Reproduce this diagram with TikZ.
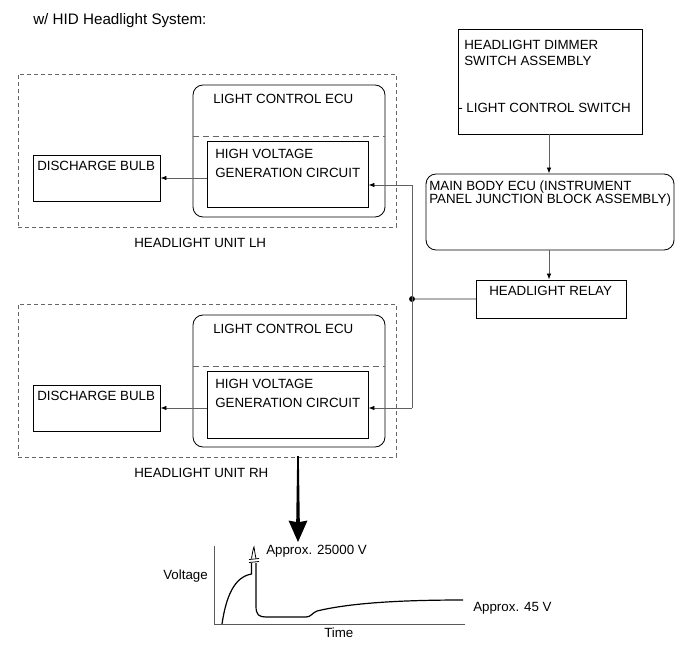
\documentclass[tikz,border=0pt]{standalone}
\usepackage{fontspec}
\setmainfont{Liberation Sans}
\usetikzlibrary{arrows.meta,fit}
\newcommand{\boxfnt}{\fontsize{10pt}{12pt}\selectfont}
\newcommand{\titlefnt}{\fontsize{11.4pt}{13.5pt}\selectfont}
\begin{document}
\begin{tikzpicture}[x=0.75pt,y=-0.75pt,
  box/.style={draw=black,line width=0.65pt,inner sep=0pt},
  rbox/.style={box,rounded corners=7.5pt},
  dbox/.style={draw=gray!80!black,line width=0.6pt,dash pattern=on 3pt off 2.25pt,inner sep=0pt},
  innerdash/.style={draw=gray!80!black,line width=0.6pt,dash pattern=on 4.5pt off 3pt},
  lbl/.style={inner sep=0pt,anchor=base west,font=\boxfnt},
  wire/.style={draw=gray!75!black,line width=0.6pt},
  arr/.style={wire,-{Latex[length=4.5pt,width=3.4pt,color=black]}},
  curve/.style={draw=black,line width=0.9pt},
  axis/.style={draw=gray!70!black,line width=0.7pt}]
\useasboundingbox (0,0) rectangle (691,660);

% title
\node[lbl,font=\titlefnt] (title) at (33,25) {w/ HID Headlight System:};

% ---------- LH unit ----------
\node[dbox,fit={(18,74)(396,227)}] (unitL) {};
\node[rbox,fit={(193,85)(385,217)}] (ecuL) {};
\draw[innerdash] (ecuL.west |- 0,136) -- (ecuL.east |- 0,136);
\node[lbl] (ecuLt) at (213,103) {LIGHT CONTROL ECU};
\node[box,fit={(207,141)(368,207)}] (hvL) {};
\node[lbl] (hvLt1) at (215,158) {HIGH VOLTAGE};
\node[lbl] (hvLt2) at (215,177) {GENERATION CIRCUIT};
\node[box,fit={(33,155)(160,201)}] (bulbL) {};
\node[lbl] (bulbLt) at (37,170) {DISCHARGE BULB};
\node[lbl] (unitLt) at (134,247) {HEADLIGHT UNIT LH};

% ---------- RH unit ----------
\node[dbox,fit={(18,304)(396,457)}] (unitR) {};
\node[rbox,fit={(193,315)(385,447)}] (ecuR) {};
\draw[innerdash] (ecuR.west |- 0,366) -- (ecuR.east |- 0,366);
\node[lbl] (ecuRt) at (213,333) {LIGHT CONTROL ECU};
\node[box,fit={(207,371)(368,438)}] (hvR) {};
\node[lbl] (hvRt1) at (215,388) {HIGH VOLTAGE};
\node[lbl] (hvRt2) at (215,407) {GENERATION CIRCUIT};
\node[box,fit={(33,385)(160,431)}] (bulbR) {};
\node[lbl] (bulbRt) at (37,400) {DISCHARGE BULB};
\node[lbl] (unitRt) at (134,477) {HEADLIGHT UNIT RH};

% ---------- right column ----------
\node[box,fit={(458,29)(642,134)}] (dim) {};
\node[lbl] (dimt1) at (464,50) {HEADLIGHT DIMMER};
\node[lbl] (dimt2) at (464,65) {SWITCH ASSEMBLY};
\node[lbl] (dimt3) at (458,112) {- LIGHT CONTROL SWITCH};

\node[rbox,fit={(426,174)(674,250)}] (body) {};
\node[lbl] (bodyt1) at (429,190) {MAIN BODY ECU (INSTRUMENT};
\node[lbl] (bodyt2) at (429,203) {PANEL JUNCTION BLOCK ASSEMBLY)};

\node[box,fit={(476,280)(626,318)}] (relay) {};
\node[lbl] (relayt) at (489,295) {HEADLIGHT RELAY};

% ---------- connectors ----------
\draw[arr] (dim.south -| 549,0) -- (body.north -| 549,0);
\draw[arr] (body.south -| 549,0) -- (relay.north -| 549,0);
\coordinate (j) at (412,299);
\coordinate (jt) at (412,185);
\coordinate (jb) at (412,408);
\draw[wire,draw=gray!60,line width=1pt] (relay.west) -- (j);
\fill[black] (j) circle (2.2pt);
\draw[wire] (jt) -- (jb);
\draw[arr] (jt) -- (jt -| hvL.east);
\draw[arr] (jb) -- (jb -| hvR.east);
\draw[arr] (hvL.west |- bulbL.east) -- (bulbL.east);
\draw[arr] (hvR.west |- bulbR.east) -- (bulbR.east);

% ---------- big down arrow ----------
\fill[black] (297.2,456) -- (298.8,456) -- (299.8,522) -- (307.5,520.5)
  -- (298,542) -- (288.5,520.5) -- (296.2,522) -- cycle;

% ---------- waveform ----------
\draw[axis] (214,546) -- (214,624) -- (465,624);
\draw[curve] (222,624) .. controls (226,597) and (234,577) .. (251.5,574) -- (251.5,563);
\draw[curve] (256,563) -- (256,606) .. controls (256,615) and (259,617) .. (266,617)
  -- (306,617) .. controls (311,617) and (312,613) .. (317,611)
  .. controls (350,603) and (400,600) .. (463,600);
% break mark and peak
\draw[black,line width=0.6pt] (249,562.5) .. controls (251,560.5) and (252.5,564) .. (254,562) .. controls (255.5,560) and (257,563.5) .. (259,561.5);
\draw[black,line width=0.6pt] (249,559.5) .. controls (251,557.5) and (252.5,561) .. (254,559) .. controls (255.5,557) and (257,560.5) .. (259,558.5);
\draw[black,line width=0.6pt] (251.5,558.5) .. controls (252.5,553) and (253,549) .. (254,547) .. controls (254.5,550) and (255,554) .. (256,558.5);
\node[lbl] (v25) at (266,554) {Approx. 25000 V};
\node[lbl] (vlab) at (163,579) {Voltage};
\node[lbl] (v45) at (473,611) {Approx. 45 V};
\node[lbl] (tlab) at (324,637) {Time};
\end{tikzpicture}
\end{document}
